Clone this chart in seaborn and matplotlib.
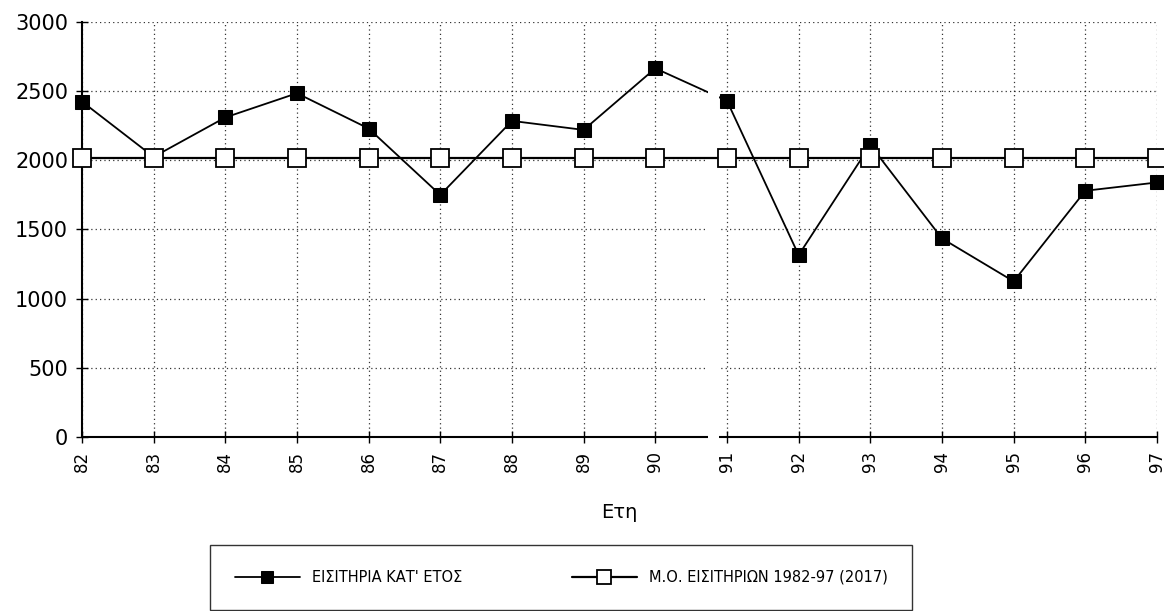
import matplotlib
matplotlib.use("Agg")
import matplotlib.pyplot as plt
import matplotlib.transforms as mtransforms
from matplotlib.patches import Rectangle
import seaborn as sns
import pandas as pd

years = [82, 83, 84, 85, 86, 87, 88, 89, 90, 91, 92, 93, 94, 95, 96, 97]
tickets = [2425, 2025, 2310, 2485, 2230, 1750, 2285, 2220, 2665, 2430,
           1315, 2110, 1435, 1125, 1780, 1840]
mean_value = 2017
mean_line = [mean_value] * len(years)
series_names = ["ΕΙΣΙΤΗΡΙΑ ΚΑΤ' ΕΤΟΣ", "Μ.Ο. ΕΙΣΙΤΗΡΙΩΝ 1982-97 (2017)"]
y_ticks = [0, 500, 1000, 1500, 2000, 2500, 3000]
x_label = "Ετη"

df = pd.DataFrame({
    "year": years * 2,
    "value": tickets + mean_line,
    "series": [series_names[0]] * len(years) + [series_names[1]] * len(years),
})

sns.set_theme(style="white")
plt.rcParams['font.family'] = ['DejaVu Sans']
plt.rcParams.update({"text.color": "black", "axes.labelcolor": "black",
                     "xtick.color": "black", "ytick.color": "black"})

fig = plt.figure(figsize=(11.64, 6.11), dpi=100)
ax = fig.add_axes([0.0704, 0.2848, 0.9236, 0.6792])

sns.lineplot(data=df[df.series == series_names[0]], x="year", y="value",
             ax=ax, color="black", linewidth=1.3, marker="s", markersize=10,
             markerfacecolor="black", markeredgecolor="black",
             label=series_names[0], clip_on=False, zorder=3)
sns.lineplot(data=df[df.series == series_names[1]], x="year", y="value",
             ax=ax, color="black", linewidth=1.6, marker="s", markersize=13,
             markerfacecolor="white", markeredgecolor="black", markeredgewidth=1.3,
             label=series_names[1], clip_on=False, zorder=4)

ax.set_xlim(82, 97)
ax.set_ylim(0, 3000)
ax.set_xticks(years)
ax.set_xticklabels([str(y) for y in years], rotation=90, fontsize=12)
ax.set_yticks(y_ticks)
ax.set_yticklabels([str(t) for t in y_ticks], fontsize=15)
ax.tick_params(axis="both", direction="inout", length=8, width=1, color="black",
               bottom=True, left=True, pad=6, labelcolor="black")
ax.grid(True, linestyle=(0, (1, 2.5)), color="black", linewidth=0.9, alpha=0.8)
for s in ["top", "right"]:
    ax.spines[s].set_visible(False)
for s in ["left", "bottom"]:
    ax.spines[s].set_color("black")
    ax.spines[s].set_linewidth(1.5)

ax.set_xlabel(x_label, fontsize=14, labelpad=22, color="black")
ax.set_ylabel("")

# page-join gap of the scanned original
trans = mtransforms.blended_transform_factory(ax.transData, ax.transAxes)
ax.add_patch(Rectangle((90.74, -0.02), 0.15, 0.93, transform=trans,
                       facecolor="white", edgecolor="none", zorder=3.5, clip_on=False))

ax.get_legend().remove()
handles, labels = ax.get_legend_handles_labels()
leg = fig.legend(handles, labels, loc="upper left", bbox_to_anchor=(0.174, 0.12),
                 ncol=2, frameon=True, fancybox=False, edgecolor="black",
                 handlelength=4.5, columnspacing=7.5, borderpad=1.7, markerscale=0.8,
                 prop={"family": ["DejaVu Sans"], "size": 10.5})
for t in leg.get_texts():
    t.set_color("black")
leg.get_frame().set_linewidth(1.0)

fig.savefig("out.png", dpi=100)
